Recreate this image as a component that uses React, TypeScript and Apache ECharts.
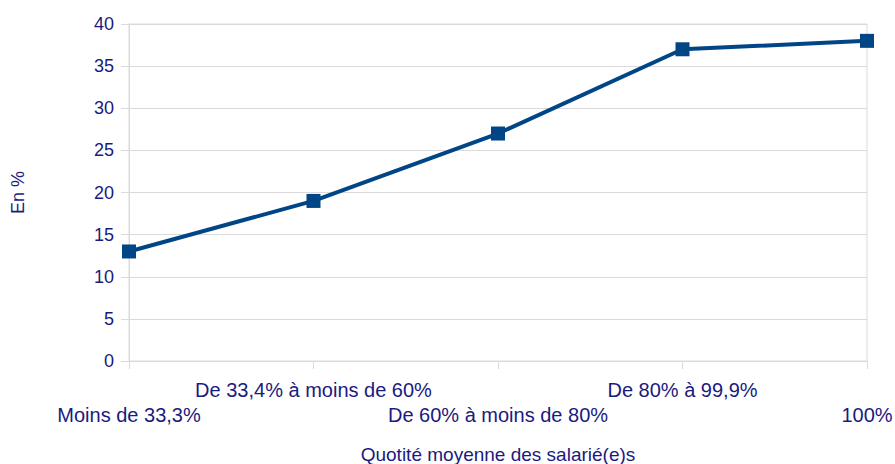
import React, { useEffect, useRef } from "react";
import * as echarts from "echarts";

const categories = [
  "Moins de 33,3%",
  "De 33,4% à moins de 60%",
  "De 60% à moins de 80%",
  "De 80% à 99,9%",
  "100%",
];
const values = [13, 19, 27, 37, 38];
const yTicks = { min: 0, max: 40, interval: 5 };
const xName = "Quotité moyenne des salarié(e)s";
const yName = "En %";

const TEXT = "#1a1a80";
const GRIDC = "#dadada";
const LINE = "#004586";
const FONT = "Liberation Sans, Arial, sans-serif";

export default function App() {
  const ref = useRef<HTMLDivElement>(null);
  useEffect(() => {
    if (!ref.current) return;
    const chart = echarts.init(ref.current, undefined, { renderer: "svg" });
    chart.setOption({
      animation: false,
      backgroundColor: "#ffffff",
      grid: {
        left: 129,
        right: 28,
        top: 24,
        bottom: 103,
        containLabel: false,
        outerBoundsMode: "none",
        show: true,
        borderColor: GRIDC,
        borderWidth: 1,
      },
      xAxis: {
        type: "category",
        data: categories,
        boundaryGap: false,
        name: xName,
        nameLocation: "middle",
        nameGap: 84,
        nameTextStyle: { color: TEXT, fontSize: 19, fontFamily: FONT },
        axisLine: { show: true, lineStyle: { color: GRIDC } },
        axisTick: { show: true, length: 8, lineStyle: { color: GRIDC } },
        splitLine: { show: false },
        axisLabel: {
          interval: 0,
          color: TEXT,
          fontSize: 20,
          fontFamily: FONT,
          margin: 17,
          lineHeight: 24.5,
          formatter: (v: string, i: number) => (i % 2 === 1 ? v + "\n " : " \n" + v),
        },
      },
      yAxis: {
        type: "value",
        min: yTicks.min,
        max: yTicks.max,
        interval: yTicks.interval,
        name: yName,
        nameLocation: "middle",
        nameGap: 102,
        nameTextStyle: { color: TEXT, fontSize: 18, fontFamily: FONT },
        axisLine: { show: true, lineStyle: { color: GRIDC } },
        axisTick: { show: true, length: 8, lineStyle: { color: GRIDC } },
        splitLine: { show: true, lineStyle: { color: GRIDC } },
        axisLabel: { color: TEXT, fontSize: 18, fontFamily: FONT, margin: 15 },
      },
      series: [
        {
          type: "line",
          data: values,
          symbol: "rect",
          symbolSize: 14,
          lineStyle: { color: LINE, width: 4 },
          itemStyle: { color: LINE },
        },
      ],
    });
    return () => chart.dispose();
  }, []);
  return (
    <div
      ref={ref}
      style={{ position: "fixed", left: 0, top: 0, width: 895, height: 464 }}
    />
  );
}
